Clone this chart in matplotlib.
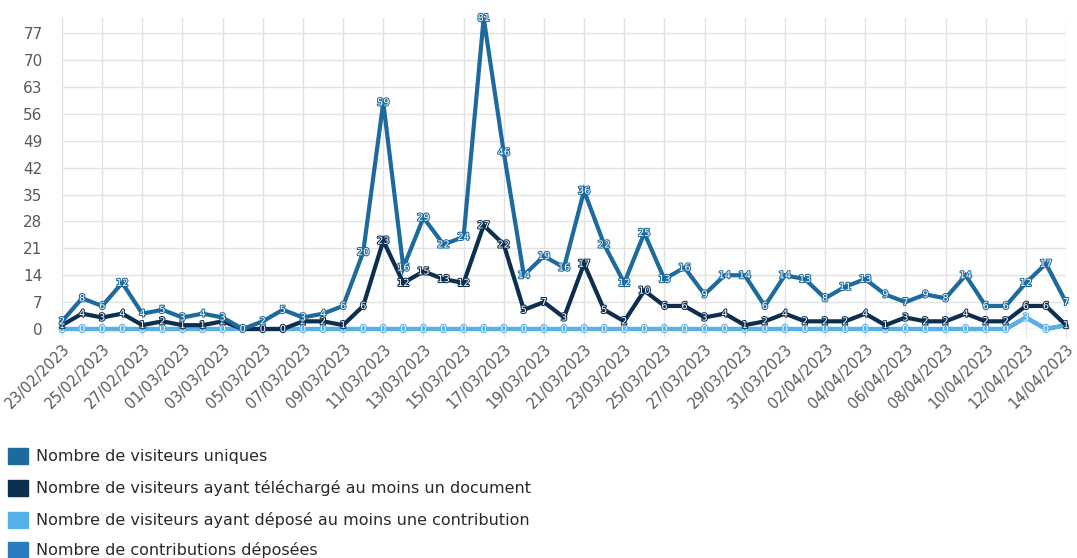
import matplotlib
matplotlib.use("Agg")
import matplotlib.pyplot as plt
import matplotlib.patheffects as pe
from matplotlib.patches import Rectangle
import pandas as pd

# daily stats, 23/02/2023 -> 14/04/2023
dates = pd.date_range("2023-02-23", "2023-04-14", freq="D")
date_labels = [d.strftime("%d/%m/%Y") for d in dates]

visiteurs_uniques = [2, 8, 6, 12, 4, 5, 3, 4, 3, 0,
                     2, 5, 3, 4, 6, 20, 59, 16, 29, 22,
                     24, 81, 46, 14, 19, 16, 36, 22, 12, 25,
                     13, 16, 9, 14, 14, 6, 14, 13, 8, 11,
                     13, 9, 7, 9, 8, 14, 6, 6, 12, 17,
                     7]
visiteurs_telechargement = [1, 4, 3, 4, 1, 2, 1, 1, 2, 0,
                            0, 0, 2, 2, 1, 6, 23, 12, 15, 13,
                            12, 27, 22, 5, 7, 3, 17, 5, 2, 10,
                            6, 6, 3, 4, 1, 2, 4, 2, 2, 2,
                            4, 1, 3, 2, 2, 4, 2, 2, 6, 6,
                            1]
visiteurs_contribution = [0] * 48 + [3, 0, 1]
contributions = [0] * 48 + [3, 0, 1]

series_labels = ["Nombre de visiteurs uniques",
                 "Nombre de visiteurs ayant téléchargé au moins un document",
                 "Nombre de visiteurs ayant déposé au moins une contribution",
                 "Nombre de contributions déposées"]
colors = ["#1d6b9e", "#0d2f4f", "#56b0ea", "#2a7cc0"]

W, H = 1077, 558
fig = plt.figure(figsize=(W / 100, H / 100), dpi=100)
ax = fig.add_axes([62 / W, 1 - 329 / H, (1066 - 62) / W, (329 - 18) / H])

x = list(range(len(dates)))
series = [visiteurs_uniques, visiteurs_telechargement,
          visiteurs_contribution, contributions]
zorders = [6, 5, 4, 3]
for ys, c, z in zip(series, colors, zorders):
    ax.plot(x, ys, color=c, lw=3, zorder=z, clip_on=False,
            solid_joinstyle="miter")

# value labels on each point (white digits outlined in the series colour);
# a label hidden under an identical one from a series drawn above is skipped
for k in range(3):
    ys, c, z = series[k], colors[k], zorders[k]
    for xi, yi in zip(x, ys):
        if any(series[j][xi] == yi for j in range(k)):
            continue
        ax.text(xi, yi, str(yi), color="white", fontsize=7, ha="center",
                va="center", zorder=z + 0.5, clip_on=False,
                path_effects=[pe.withStroke(linewidth=1.5, foreground=c)])

ax.set_xlim(0, len(dates) - 1)
ax.set_ylim(0, 81)
ax.set_yticks(range(0, 78, 7))
ax.set_xticks(x[::2])
ax.set_xticklabels(date_labels[::2], rotation=45, ha="right",
                   rotation_mode="anchor", fontsize=10.5, color="#5a5a5a")
ax.tick_params(axis="y", labelsize=11, labelcolor="#5a5a5a", length=0, pad=14)
ax.tick_params(axis="x", length=6, color="#e2e2e2", pad=3)
ax.grid(True, color="#e2e2e2", lw=1)
ax.set_axisbelow(True)
for s in ax.spines.values():
    s.set_visible(False)

# legend as coloured squares with text underneath the plot
legend_y = [456, 488, 520, 550]
for lab, c, yp in zip(series_labels, colors, legend_y):
    fig.patches.append(Rectangle((8 / W, 1 - (yp + 8) / H), 20 / W, 16 / H,
                                 transform=fig.transFigure, color=c))
    fig.text(36 / W, 1 - yp / H, lab, fontsize=11.5, color="#2a2a2a",
             va="center", ha="left")

fig.savefig("out.png", dpi=100)
